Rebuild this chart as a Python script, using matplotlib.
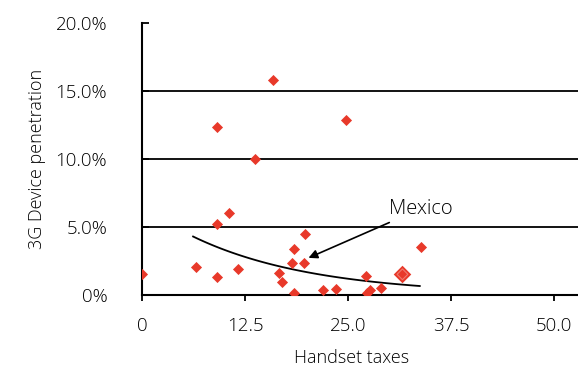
import numpy as np
import matplotlib.pyplot as plt

# handset taxes (x) and 3G device penetration in % (y)
taxes = [0.0, 6.5, 9.1, 9.1, 9.1, 10.6, 11.6, 13.7, 15.9, 16.6, 17.0, 18.2, 18.4,
         18.5, 19.7, 19.8, 22.0, 23.5, 24.8, 27.2, 27.3, 27.7, 29.0, 33.8]
penetration = [1.54, 2.03, 1.32, 12.38, 5.22, 6.0, 1.94, 9.98, 15.83, 1.64, 0.93, 2.33, 3.41,
               0.15, 2.33, 4.51, 0.34, 0.42, 12.87, 1.42, 0.12, 0.37, 0.54, 3.53]
mexico = (19.7, 2.33)
highlight = (31.6, 1.52)

# exponential trendline as drawn on the chart: y = a * exp(k * x)
trend_a = 6.56
trend_k = -0.0681
trend_range = (6.2, 33.7)

y_ticks = [0, 5, 10, 15, 20]
y_labels = ['0%', '5.0%', '10.0%', '15.0%', '20.0%']
x_ticks = [0, 12.5, 25.0, 37.5, 50.0]
x_labels = ['0', '12.5', '25.0', '37.5', '50.0']

plt.rcParams['font.family'] = ['Open Sans', 'DejaVu Sans']
plt.rcParams['font.weight'] = 'light'
plt.rcParams['axes.labelweight'] = 'light'
red = '#e8392a'

fig = plt.figure(figsize=(5.78, 3.72), dpi=100)
ax = fig.add_axes([142/578, 77/372, 1 - 142/578, 272/372])

# gridlines at 5, 10, 15 only
for g in y_ticks[1:-1]:
    ax.axhline(g, color='black', lw=1.3, zorder=1)

ax.scatter(taxes, penetration, marker='D', s=32, color=red, zorder=3, linewidths=0)
ax.scatter([highlight[0]], [highlight[1]], marker='D', s=80, color=red, zorder=3, linewidths=0)
ax.scatter([highlight[0]], [highlight[1]], marker='D', s=30, facecolor='none',
           edgecolor='#f07a6e', linewidths=0.8, zorder=4)

xs = np.linspace(trend_range[0], trend_range[1], 100)
ax.plot(xs, trend_a * np.exp(trend_k * xs), color='black', lw=1.3, zorder=2)

ax.annotate('Mexico', xy=(mexico[0] + 0.5, mexico[1] + 0.4), xytext=(30.0, 6.35),
            fontsize=14.5, va='center', ha='left',
            arrowprops=dict(arrowstyle='-|>', color='black', lw=1.2,
                            mutation_scale=13, shrinkA=2, shrinkB=0))

ax.set_xlim(0, 52.9)
ax.set_ylim(0, 20)
ax.set_xticks(x_ticks)
ax.set_xticklabels(x_labels, fontsize=13.5)
ax.set_yticks(y_ticks)
ax.set_yticklabels(y_labels, fontsize=13.5)
ax.tick_params(axis='y', direction='in', length=5, width=1.3, pad=25)
ax.tick_params(axis='x', direction='out', length=4, width=1.3, pad=12)

for side in ['top', 'right']:
    ax.spines[side].set_visible(False)
for side in ['left', 'bottom']:
    ax.spines[side].set_linewidth(1.5)

ax.set_xlabel('Handset taxes', fontsize=13)
ax.xaxis.set_label_coords(0.48, -0.2)
ax.set_ylabel('3G Device penetration', fontsize=13)
ax.yaxis.set_label_coords(-0.22, 0.5)

plt.savefig('out.png', dpi=100)
